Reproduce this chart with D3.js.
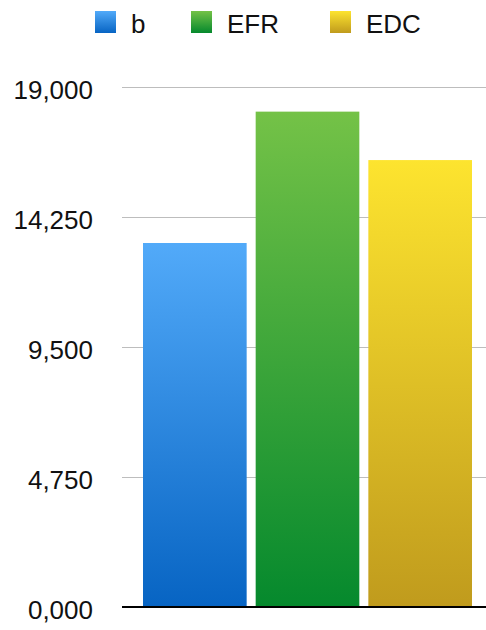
<!DOCTYPE html>
<html>
<head>
  <meta charset="UTF-8">
  <style>
    body {
      margin: 0;
      padding: 0;
      background-color: #ffffff;
      font-family: "Liberation Sans", Arial, sans-serif;
    }
  </style>
</head>
<body>
<svg></svg>
<script src="https://d3js.org/d3.v7.min.js"></script>
<script>
// chart data
let categories = ["b", "EFR", "EDC"];
let values = [13300, 18100, 16330];
let tickValues = [0, 4750, 9500, 14250, 19000];
let tickLabels = ["0,000", "4,750", "9,500", "14,250", "19,000"];
let topColors = ["#52aaf9", "#74c247", "#fde42f"];
let bottomColors = ["#0764c3", "#05892d", "#c09b1d"];

let width = 486, height = 630;

let svg = d3.select("svg")
    .attr("width", width)
    .attr("height", height);

let y = d3.scaleLinear()
    .domain([0, 19000])
    .range([607, 87]);

let x = d3.scaleBand()
    .domain(categories)
    .range([143, 472])
    .paddingInner(0.08)
    .paddingOuter(0);

// gradients for bars and legend
let defs = svg.append("defs");
categories.forEach((c, i) => {
    let grad = defs.append("linearGradient")
        .attr("id", "grad" + i)
        .attr("x1", "0%").attr("x2", "0%")
        .attr("y1", "0%").attr("y2", "100%");
    grad.append("stop").attr("offset", "0%").attr("stop-color", topColors[i]);
    grad.append("stop").attr("offset", "100%").attr("stop-color", bottomColors[i]);
});

// gridlines
svg.append("g")
    .selectAll("line")
    .data(tickValues.slice(1))
    .enter()
    .append("line")
    .attr("x1", 122)
    .attr("x2", 486)
    .attr("y1", d => Math.round(y(d)) + 0.5)
    .attr("y2", d => Math.round(y(d)) + 0.5)
    .attr("stroke", "#bdbdbd")
    .attr("stroke-width", 1);

// tick labels
svg.append("g")
    .selectAll("text")
    .data(tickValues)
    .enter()
    .append("text")
    .attr("x", 93)
    .attr("y", d => y(d) + 12)
    .attr("text-anchor", "end")
    .attr("font-size", "26px")
    .attr("fill", "#111")
    .text((d, i) => tickLabels[i]);

// bars
svg.append("g")
    .selectAll("rect")
    .data(values)
    .enter()
    .append("rect")
    .attr("x", (d, i) => x(categories[i]))
    .attr("width", x.bandwidth())
    .attr("y", d => y(d))
    .attr("height", d => y(0) - y(d))
    .attr("fill", (d, i) => "url(#grad" + i + ")");

// baseline
svg.append("line")
    .attr("x1", 122)
    .attr("x2", 486)
    .attr("y1", y(0))
    .attr("y2", y(0))
    .attr("stroke", "#000")
    .attr("stroke-width", 2);

// legend
let legendX = [95, 191, 330];
let legend = svg.append("g");
categories.forEach((c, i) => {
    legend.append("rect")
        .attr("x", legendX[i])
        .attr("y", 11)
        .attr("width", 21)
        .attr("height", 22)
        .attr("fill", "url(#grad" + i + ")");
    legend.append("text")
        .attr("x", legendX[i] + 36)
        .attr("y", 33)
        .attr("font-size", "26px")
        .attr("fill", "#111")
        .text(c);
});
</script>
</body>
</html>
